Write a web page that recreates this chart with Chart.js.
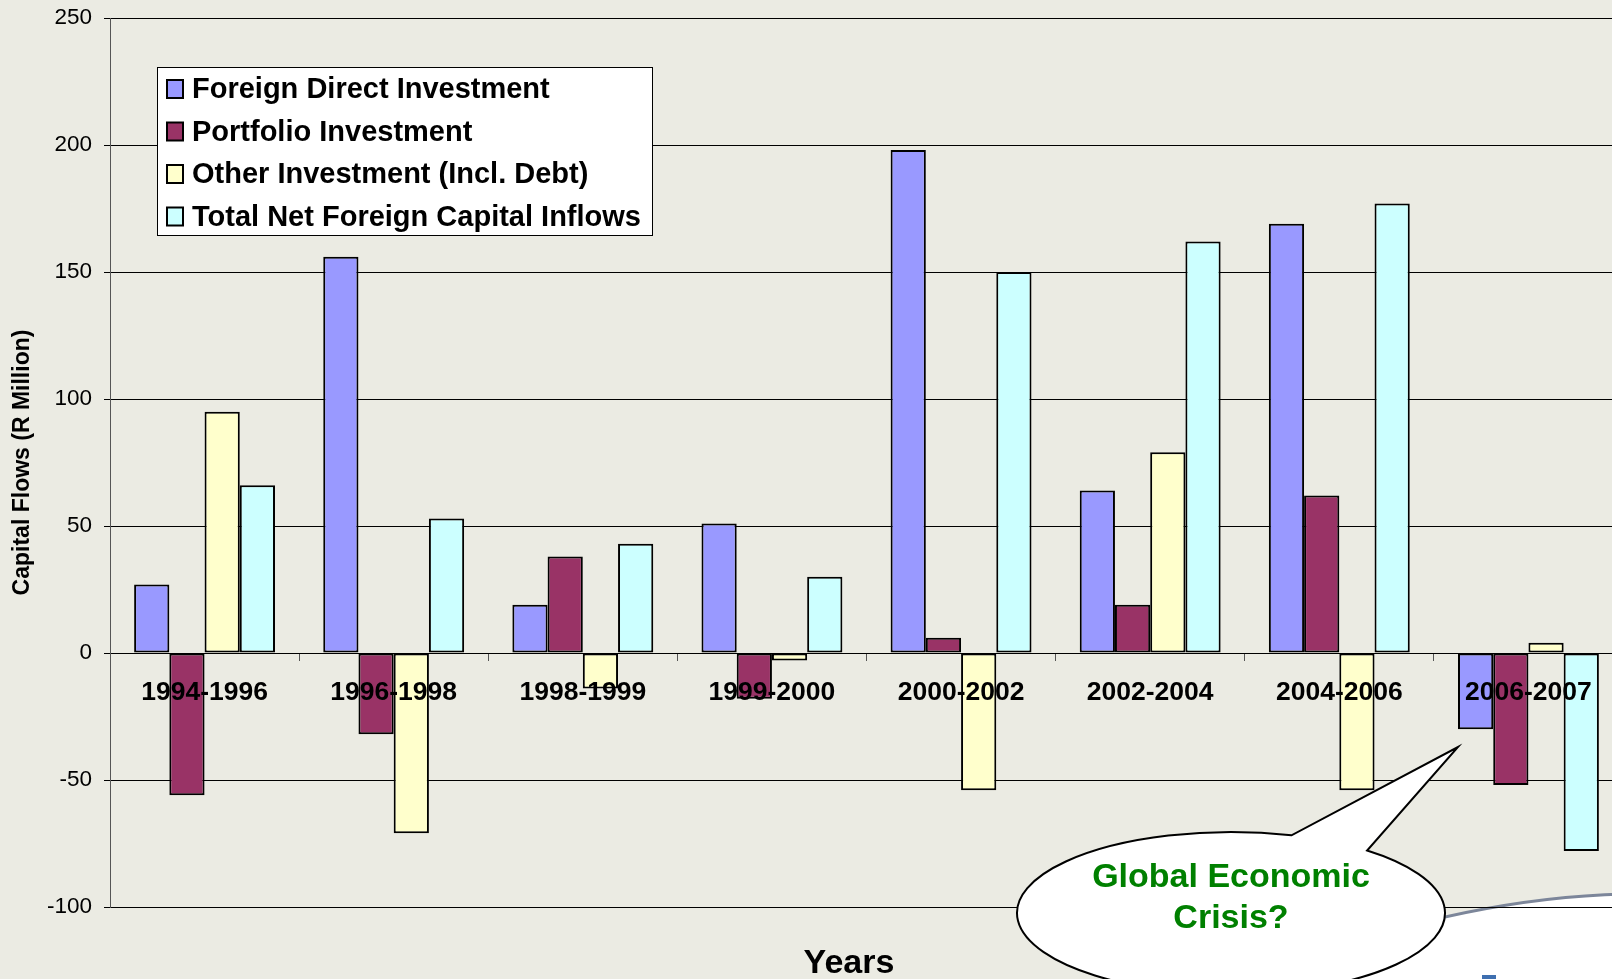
<!DOCTYPE html>
<html>
<head>
<meta charset="utf-8">
<title>Capital Flows</title>
<script src="https://cdn.jsdelivr.net/npm/chart.js"></script>
<style>
  html, body { margin: 0; padding: 0; overflow: hidden; background: #EBEBE3; }
  #wrap { position: absolute; left: 0; top: 0; width: 1624px; height: 979px; }
</style>
</head>
<body>
<div id="wrap"><canvas id="chart"></canvas></div>
<script>
// data
var periods = ['1994-1996', '1996-1998', '1998-1999', '1999-2000', '2000-2002', '2002-2004', '2004-2006', '2006-2007'];
var fdi       = [27, 156, 19, 51, 198, 64, 169, -30];
var portfolio = [-56, -32, 38, -18, 6, 19, 62, -52];
var other     = [95, -71, -14, -3, -54, 79, -54, 4];
var totalNet  = [66, 53, 43, 30, 150, 162, 177, -78];
var yTicks    = [-100, -50, 0, 50, 100, 150, 200, 250];

var seriesNames  = ['Foreign Direct Investment', 'Portfolio Investment', 'Other Investment (Incl. Debt)', 'Total Net Foreign Capital Inflows'];
var seriesColors = ['#9999FF', '#993366', '#FFFFCC', '#CCFFFF'];

var FONT = '"Liberation Sans", Arial, sans-serif';

function makeSet(i, values) {
    return {
        label: seriesNames[i],
        data: values,
        backgroundColor: seriesColors[i],
        borderColor: '#000',
        borderWidth: 2,
        borderSkipped: false,
        categoryPercentage: 0.745,
        barPercentage: 1.0
    };
}

// no automatic label padding, the layout padding decides the plot box
function noPad(scale) {
    scale.paddingTop = 0;
    scale.paddingBottom = 0;
    scale.paddingLeft = 0;
    scale.paddingRight = 0;
}

// slide background + the curved decoration behind the chart
var backdrop = {
    id: 'backdrop',
    beforeDraw: function(chart) {
        var ctx = chart.ctx;
        ctx.save();
        ctx.fillStyle = '#EBEBE3';
        ctx.fillRect(0, 0, chart.width, chart.height);
        ctx.beginPath();
        ctx.moveTo(1300, 960);
        ctx.quadraticCurveTo(1470, 898, 1624, 894);
        ctx.lineTo(1624, 979);
        ctx.lineTo(1300, 979);
        ctx.closePath();
        ctx.fillStyle = '#FFFFFF';
        ctx.fill();
        ctx.beginPath();
        ctx.moveTo(1300, 960);
        ctx.quadraticCurveTo(1470, 898, 1624, 894);
        ctx.strokeStyle = '#7C869A';
        ctx.lineWidth = 3;
        ctx.stroke();
        ctx.fillStyle = '#3E6FB0';
        ctx.fillRect(1482, 975, 14, 6);
        ctx.restore();
    }
};

// legend box, "Years" title and the speech bubble
var overlay = {
    id: 'overlay',
    afterDraw: function(chart) {
        var ctx = chart.ctx;
        ctx.save();

        // legend
        ctx.fillStyle = '#fff';
        ctx.fillRect(157, 67, 495, 168);
        ctx.strokeStyle = '#000';
        ctx.lineWidth = 1;
        ctx.strokeRect(157.5, 67.5, 495, 168);
        ctx.font = 'bold 29px ' + FONT;
        ctx.textBaseline = 'middle';
        ctx.textAlign = 'left';
        chart.data.datasets.forEach(function(ds, i) {
            var cy = 89 + i * 42.5;
            ctx.fillStyle = ds.backgroundColor;
            ctx.fillRect(167, cy - 9, 16, 18);
            ctx.lineWidth = 2;
            ctx.strokeStyle = '#000';
            ctx.strokeRect(167, cy - 9, 16, 18);
            ctx.fillStyle = '#000';
            ctx.fillText(ds.label, 192, cy + 1);
        });

        // x axis title
        ctx.font = 'bold 34px ' + FONT;
        ctx.textAlign = 'center';
        ctx.fillStyle = '#000';
        ctx.fillText('Years', 849, 964);

        // callout bubble
        var cx = 1231, cy2 = 913, rx = 214, ry = 81;
        var a1 = Math.atan2((851 - cy2) / ry, (1366 - cx) / rx);
        var a2 = Math.atan2((836 - cy2) / ry, (1291 - cx) / rx) + Math.PI * 2;
        ctx.beginPath();
        ctx.ellipse(cx, cy2, rx, ry, 0, a1, a2, false);
        ctx.lineTo(1458, 747);
        ctx.closePath();
        ctx.fillStyle = '#fff';
        ctx.fill();
        ctx.lineWidth = 2;
        ctx.strokeStyle = '#000';
        ctx.stroke();
        ctx.fillStyle = '#008000';
        ctx.font = 'bold 34px ' + FONT;
        ctx.fillText('Global Economic', 1231, 878);
        ctx.fillText('Crisis?', 1231, 919);

        ctx.restore();
    }
};

var ctx = document.getElementById('chart').getContext('2d');

var myChart = new Chart(ctx, {
    type: 'bar',
    data: {
        labels: periods,
        datasets: [makeSet(0, fdi), makeSet(1, portfolio), makeSet(2, other), makeSet(3, totalNet)]
    },
    options: {
        responsive: true,
        maintainAspectRatio: false,
        animation: false,
        layout: { padding: { left: 0, right: 1, top: 18, bottom: 72 } },
        plugins: {
            legend: { display: false },
            tooltip: { enabled: false }
        },
        scales: {
            x: {
                type: 'category',
                position: { y: 0 },
                offset: true,
                afterFit: noPad,
                grid: { offset: true, drawOnChartArea: false, drawTicks: true, tickLength: 8, color: '#555' },
                border: { display: false },
                ticks: {
                    z: 1,
                    color: '#000',
                    font: { family: FONT, size: 26.5, weight: 'bold' },
                    padding: 16,
                    maxRotation: 0,
                    autoSkip: false
                }
            },
            y: {
                min: -100,
                max: 250,
                afterBuildTicks: function(scale) {
                    scale.ticks = yTicks.map(function(v) { return { value: v }; });
                },
                afterFit: function(scale) { scale.width = 110; noPad(scale); },
                grid: { color: '#000', lineWidth: 1, tickLength: 6, drawTicks: true },
                border: { display: true, color: '#555', width: 1 },
                ticks: {
                    color: '#000',
                    font: { family: FONT, size: 22.5 },
                    padding: 12
                },
                title: {
                    display: true,
                    text: 'Capital Flows (R Million)',
                    color: '#000',
                    font: { family: FONT, size: 23, weight: 'bold' },
                    padding: { top: 9, bottom: 0 }
                }
            }
        }
    },
    plugins: [backdrop, overlay]
});
</script>
</body>
</html>
